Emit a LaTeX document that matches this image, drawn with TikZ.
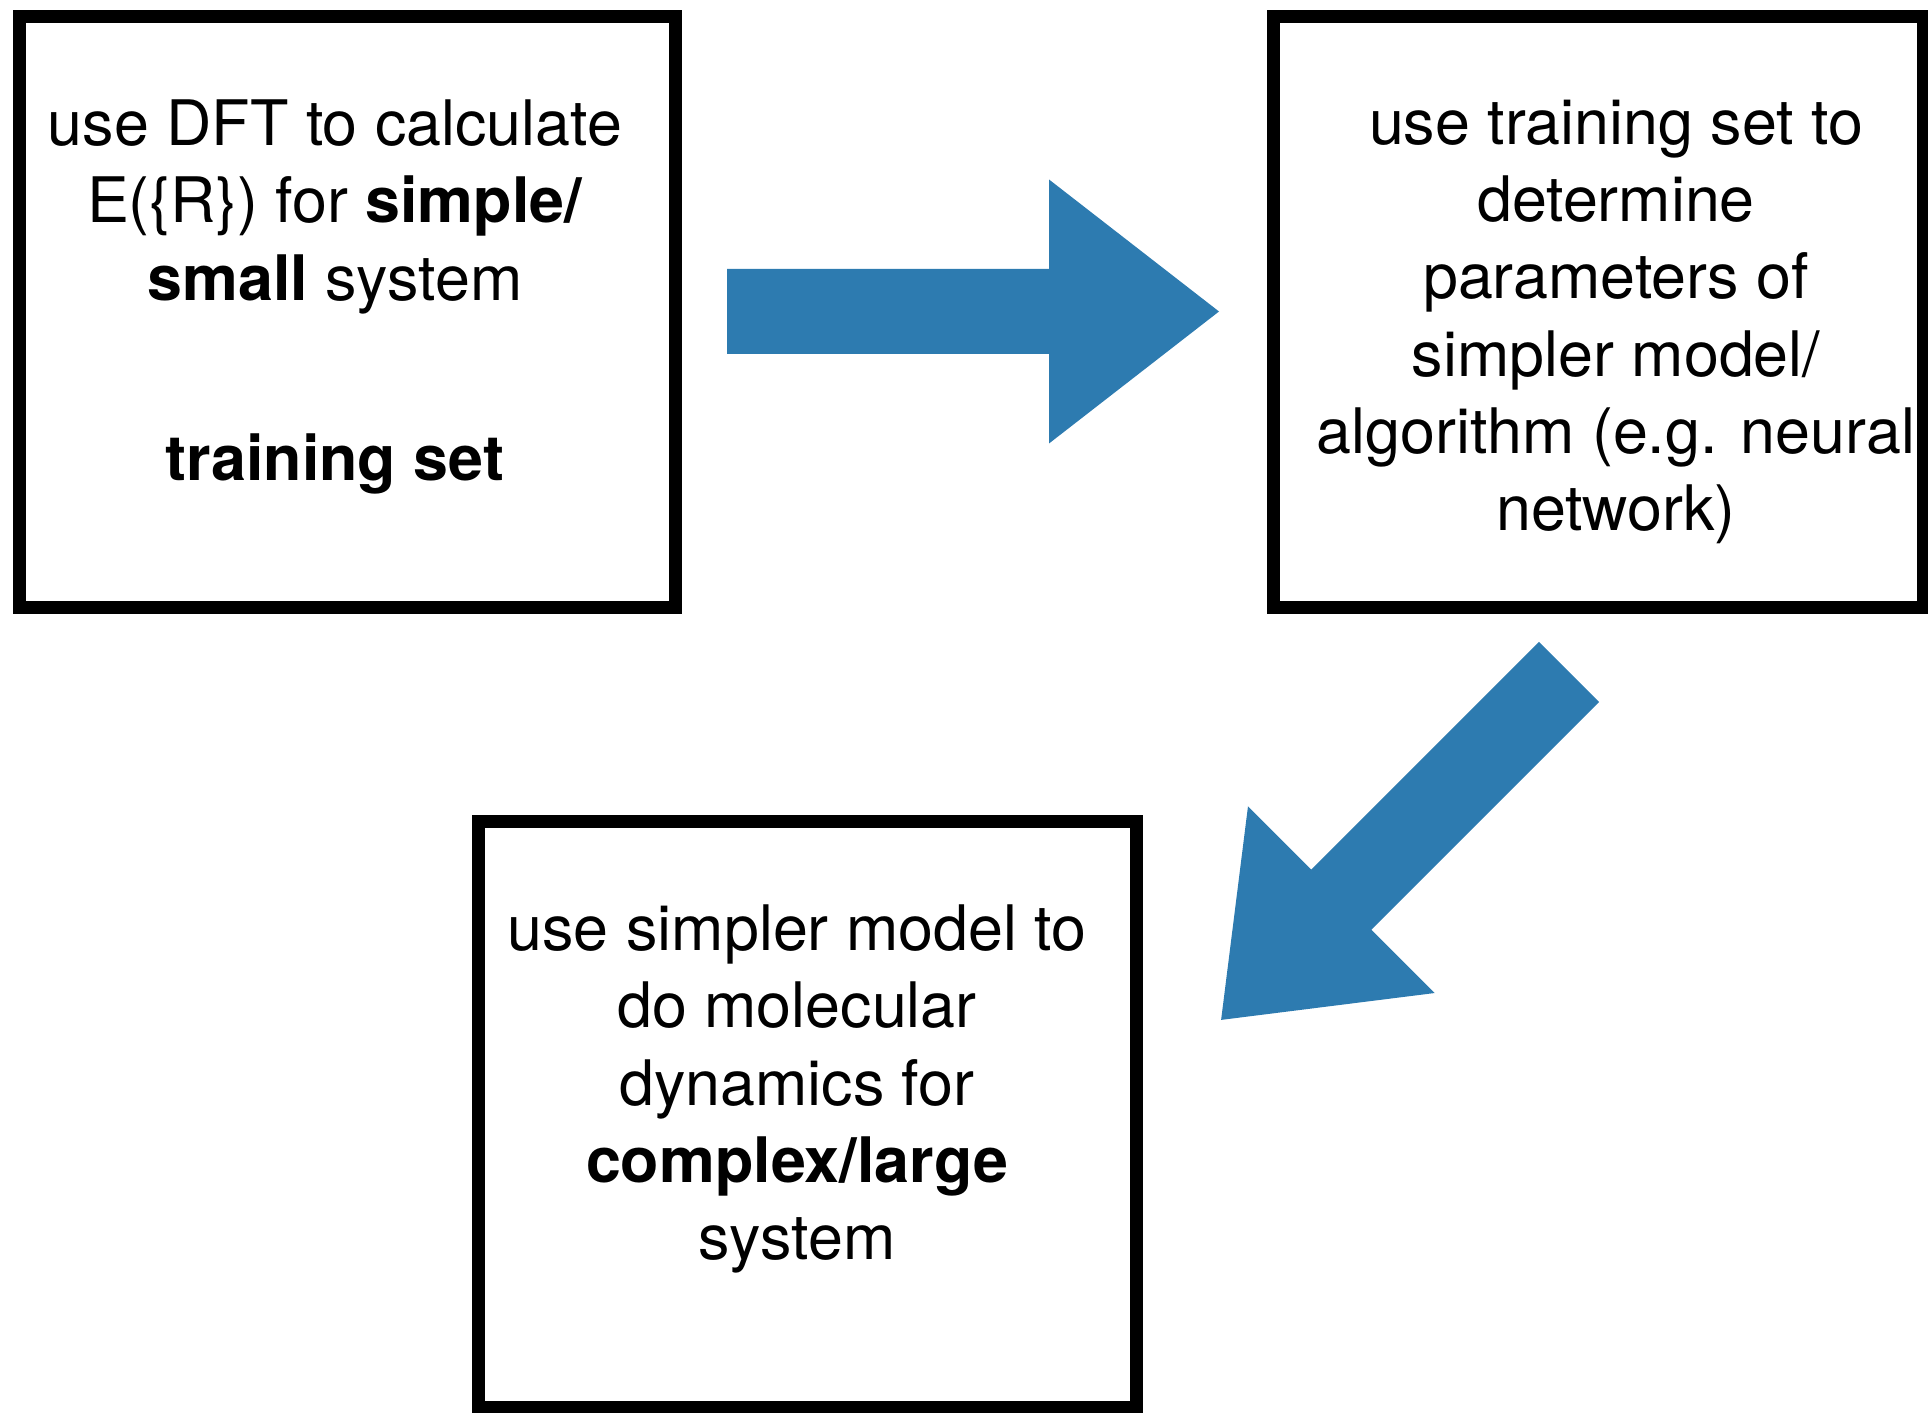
\documentclass[tikz,border=0pt]{standalone}
\usepackage{fontspec}
\setmainfont{TeX Gyre Heros}
\definecolor{arrowblue}{RGB}{45,123,176}
\tikzstyle{box}=[draw=black, line width=0.13cm, inner sep=0pt]
\tikzstyle{txt}=[align=center, inner sep=0pt, anchor=north, font=\fontsize{17.85}{22}\selectfont]
\tikzstyle{bigarrow}=[fill=arrowblue]
\newcommand{\shaftL}{322}
\newcommand{\shaftW}{42.5}
\newcommand{\headW}{132}
\newcommand{\arrowL}{492}

\begin{document}
\begin{tikzpicture}[x=0.01cm, y=-0.01cm]
	\useasboundingbox (0,0) rectangle (1928,1413);
	%% boxes
	\node[box, minimum width=6.56cm, minimum height=5.905cm] (b1) at (347.5,311.75) {};
	\node[box, minimum width=6.495cm, minimum height=5.905cm] (b2) at (1598.75,311.75) {};
	\node[box, minimum width=6.57cm, minimum height=5.855cm] (b3) at (807.5,1114.25) {};
	%% texts
	\node[txt] (t1) at (335,99) {use DFT to calculate\\E(\{R\}) for \textbf{simple/}\\\textbf{small} system\\[1.03cm]\textbf{training set}};
	\node[txt] (t2) at (1616,99) {use training set to\\determine\\parameters of\\simpler model/\\algorithm (e.g. neural\\network)};
	\node[txt] (t3) at (797,904) {use simpler model to\\do molecular\\dynamics for\\\textbf{complex/large}\\system};
	%% arrows
	\coordinate (a1s) at (727,311.5);
	\coordinate (a2s) at (1569,672);
	\begin{scope}[shift={(a1s)}]
		\fill[bigarrow] (0,-\shaftW) -- (\shaftL,-\shaftW) -- (\shaftL,-\headW) -- (\arrowL,0) -- (\shaftL,\headW) -- (\shaftL,\shaftW) -- (0,\shaftW) -- cycle;
	\end{scope}
	\begin{scope}[shift={(a2s)}, rotate=-135]
		\fill[bigarrow] (0,-\shaftW) -- (\shaftL,-\shaftW) -- (\shaftL,-\headW) -- (\arrowL,0) -- (\shaftL,\headW) -- (\shaftL,\shaftW) -- (0,\shaftW) -- cycle;
	\end{scope}
\end{tikzpicture}
\end{document}
